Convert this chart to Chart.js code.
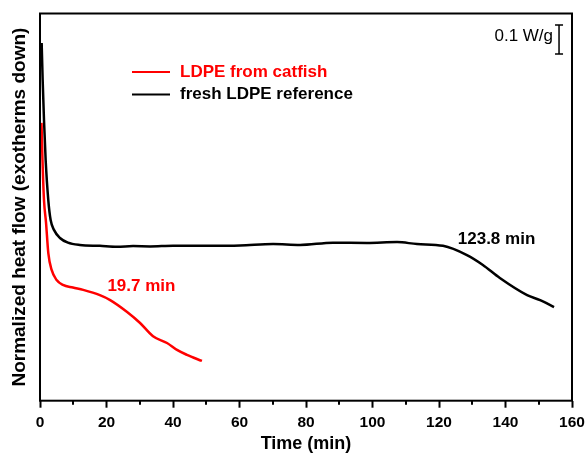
<!DOCTYPE html>
<html>
<head>
<meta charset="utf-8">
<script src="https://cdn.jsdelivr.net/npm/chart.js@4"></script>
<style>
  html, body { margin: 0; padding: 0; background: #fff; }
  canvas { display: block; }
</style>
</head>
<body>
<canvas id="dscChart" width="587" height="455"></canvas>
<script>
// Isothermal DSC traces, heat flow (W/g, arbitrary offset)
const timeRed = [0.45, 0.75, 1.2, 1.8, 2.5, 3.5, 5.0, 6.9, 9.9, 13, 18, 21.1, 26.2, 30.1, 34, 38.2, 41.2, 44.2, 48.7];
const flowRed = [0.958, 0.830, 0.692, 0.616, 0.509, 0.451, 0.416, 0.399, 0.390, 0.382, 0.364, 0.347, 0.306, 0.268, 0.222, 0.199, 0.175, 0.158, 0.137];

const timeBlack = [0.5, 0.8, 1.2, 1.7, 2.5, 3.2, 4.2, 6.0, 8.4, 12, 18, 23.2, 28, 33.1, 40, 50.2, 60.2, 70.1, 78.2, 88.1, 98.3, 107.4, 113.4, 121.2, 128.4, 133.2, 138.3, 146.5, 150.4, 154.6];
const flowBlack = [1.233, 1.106, 0.968, 0.830, 0.691, 0.623, 0.589, 0.561, 0.545, 0.537, 0.534, 0.531, 0.533, 0.532, 0.534, 0.534, 0.535, 0.540, 0.537, 0.545, 0.544, 0.547, 0.540, 0.534, 0.502, 0.468, 0.423, 0.364, 0.347, 0.323];

const seriesLabels = ['LDPE from catfish', 'fresh LDPE reference'];
const seriesColors = ['#ff0000', '#000000'];

const xTicks = [0, 20, 40, 60, 80, 100, 120, 140, 160];
const xMinorTicks = [10, 30, 50, 70, 90, 110, 130, 150];

// onset annotations: [time, flow, text]
const onsetRed = [30.5, 0.396, '19.7 min'];
const onsetBlack = [137.3, 0.557, '123.8 min'];
// scale bar: [time, top flow, height in W/g]
const scaleBar = [156.1, 1.2955, 0.1];

const FONT = "'Liberation Sans', Arial, sans-serif";

function toPoints(xs, ys) {
    return xs.map((x, i) => ({ x: x, y: ys[i] }));
}

const extras = {
    id: 'extras',
    afterDraw(chart) {
        const ctx = chart.ctx;
        const area = chart.chartArea;
        const xs = chart.scales.x;
        const ys = chart.scales.y;
        ctx.save();

        // frame
        ctx.strokeStyle = '#000';
        ctx.lineWidth = 2;
        ctx.strokeRect(area.left, area.top, area.right - area.left, area.bottom - area.top);

        // minor ticks on x
        ctx.beginPath();
        xMinorTicks.forEach(v => {
            const px = Math.round(xs.getPixelForValue(v));
            ctx.moveTo(px, area.bottom);
            ctx.lineTo(px, area.bottom + 4);
        });
        ctx.stroke();

        // legend
        ctx.textBaseline = 'middle';
        ctx.textAlign = 'left';
        ctx.font = 'bold 17px ' + FONT;
        chart.data.datasets.forEach((ds, i) => {
            const y = 72 + i * 22.5;
            ctx.strokeStyle = ds.borderColor;
            ctx.lineWidth = 2;
            ctx.beginPath();
            ctx.moveTo(132, y);
            ctx.lineTo(170, y);
            ctx.stroke();
            ctx.fillStyle = ds.borderColor;
            ctx.fillText(ds.label, 180, y);
        });

        // onset labels
        ctx.textAlign = 'center';
        ctx.fillStyle = seriesColors[0];
        ctx.fillText(onsetRed[2], xs.getPixelForValue(onsetRed[0]), ys.getPixelForValue(onsetRed[1]));
        ctx.fillStyle = seriesColors[1];
        ctx.fillText(onsetBlack[2], xs.getPixelForValue(onsetBlack[0]), ys.getPixelForValue(onsetBlack[1]));

        // scale bar
        const bx = xs.getPixelForValue(scaleBar[0]);
        const by1 = ys.getPixelForValue(scaleBar[1]);
        const by2 = ys.getPixelForValue(scaleBar[1] - scaleBar[2]);
        ctx.strokeStyle = '#000';
        ctx.lineWidth = 1.5;
        ctx.beginPath();
        ctx.moveTo(bx, by1); ctx.lineTo(bx, by2);
        ctx.moveTo(bx - 4, by1); ctx.lineTo(bx + 4, by1);
        ctx.moveTo(bx - 4, by2); ctx.lineTo(bx + 4, by2);
        ctx.stroke();
        ctx.font = '17px ' + FONT;
        ctx.textAlign = 'right';
        ctx.fillStyle = '#000';
        ctx.fillText('0.1 W/g', bx - 6, by1 + 11);

        ctx.restore();
    }
};

new Chart(document.getElementById('dscChart'), {
    type: 'line',
    data: {
        datasets: [{
            label: seriesLabels[0],
            data: toPoints(timeRed, flowRed),
            borderColor: seriesColors[0],
            borderWidth: 2.5,
            pointRadius: 0,
            cubicInterpolationMode: 'monotone',
            fill: false
        }, {
            label: seriesLabels[1],
            data: toPoints(timeBlack, flowBlack),
            borderColor: seriesColors[1],
            borderWidth: 2.5,
            pointRadius: 0,
            cubicInterpolationMode: 'monotone',
            fill: false
        }]
    },
    options: {
        responsive: false,
        animation: false,
        layout: { padding: { top: 13.5, right: 15, left: 0, bottom: 0 } },
        plugins: {
            legend: { display: false },
            tooltip: { enabled: false }
        },
        scales: {
            x: {
                type: 'linear',
                min: 0,
                max: 160,
                afterBuildTicks: scale => { scale.ticks = xTicks.map(v => ({ value: v })); },
                afterFit: scale => {
                    scale.height = 54.3;
                    scale.paddingLeft = 0;
                    scale.paddingRight = 0;
                },
                ticks: {
                    color: '#000',
                    font: { family: FONT, size: 15.5, weight: 'bold' },
                    padding: 6,
                    maxRotation: 0,
                    autoSkip: false
                },
                grid: {
                    drawOnChartArea: false,
                    tickLength: 7,
                    tickWidth: 2,
                    tickColor: '#000'
                },
                border: { display: false },
                title: {
                    display: true,
                    text: 'Time (min)',
                    color: '#000',
                    font: { family: FONT, size: 18, weight: 'bold' },
                    padding: { top: 0, bottom: 0 }
                }
            },
            y: {
                type: 'linear',
                min: 0,
                max: 1.335,
                afterFit: scale => { scale.width = 40; },
                ticks: { display: false },
                grid: { display: false },
                border: { display: false },
                title: {
                    display: true,
                    text: 'Normalized heat flow (exotherms down)',
                    color: '#000',
                    font: { family: FONT, size: 19, weight: 'bold' },
                    padding: { top: 8.5, bottom: 0 }
                }
            }
        }
    },
    plugins: [extras]
});
</script>
</body>
</html>
